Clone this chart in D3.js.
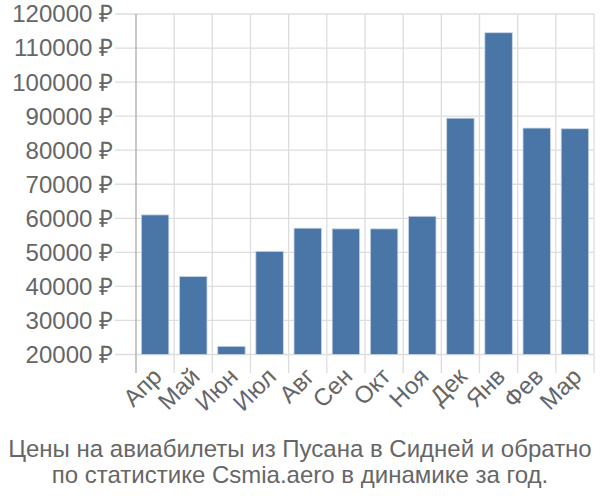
<!DOCTYPE html>
<html><head><meta charset="utf-8">
<script src="https://cdn.jsdelivr.net/npm/d3@7"></script>
<style>body{margin:0;background:#fff}svg{display:block}text{font-family:"Liberation Sans",Arial,sans-serif}</style>
</head><body>
<svg id="c" width="600" height="500"></svg>
<script>
const categories = ["Апр","Май","Июн","Июл","Авг","Сен","Окт","Ноя","Дек","Янв","Фев","Мар"];
const values = [61000,42900,22400,50300,57100,56900,56900,60600,89400,114500,86500,86300];
const yTicks = [20000,30000,40000,50000,60000,70000,80000,90000,100000,110000,120000];
const titleLines = ["Цены на авиабилеты из Пусана в Сидней и обратно","по статистике Csmia.aero в динамике за год."];

const svg = d3.select("#c");
const pLeft = 136, pRight = 594, pTop = 14, pBottom = 354.5;
const x = d3.scaleBand().domain(categories).range([pLeft, pRight]).paddingInner(0.28).paddingOuter(0.14);
const y = d3.scaleLinear().domain([20000,120000]).range([pBottom, pTop]);
const step = x.step();

// horizontal grid
svg.append("g").selectAll("line").data(yTicks).join("line")
  .attr("x1", 115).attr("x2", pRight).attr("y1", d=>y(d)).attr("y2", d=>y(d))
  .attr("stroke","#dddddd").attr("stroke-width",1.3);
// vertical grid
const vb = d3.range(categories.length+1).map(i=>pLeft+i*step);
svg.append("g").selectAll("line").data(vb.slice(1)).join("line")
  .attr("x1", d=>d).attr("x2", d=>d).attr("y1", pTop).attr("y2", 373)
  .attr("stroke","#dddddd").attr("stroke-width",1.3);
// left axis line
svg.append("line").attr("x1",pLeft).attr("x2",pLeft).attr("y1",pTop).attr("y2",373)
  .attr("stroke","#aaaaaa").attr("stroke-width",1.3);

// bars
svg.append("g").selectAll("rect").data(values).join("rect")
  .attr("x",(d,i)=>x(categories[i])).attr("width",x.bandwidth())
  .attr("y",d=>y(d)).attr("height",d=>y(20000)-y(d))
  .attr("fill","#4a76a7").attr("stroke","#c9d6e6").attr("stroke-width",0.8);

// y labels
svg.append("g").selectAll("text").data(yTicks).join("text")
  .attr("x",113).attr("y",d=>y(d)).attr("dy","0.35em").attr("text-anchor","end")
  .attr("font-size",24).attr("fill","#666").text(d=>d+" ₽");

// x labels
svg.append("g").selectAll("text").data(categories).join("text")
  .attr("transform",d=>`translate(${x(d)+x.bandwidth()/2+8},${378}) rotate(-45)`)
  .attr("text-anchor","end").attr("font-size",24).attr("fill","#666").text(d=>d);

// title
svg.append("g").selectAll("text").data(titleLines).join("text")
  .attr("x",300).attr("y",(d,i)=>456.5+i*26).attr("text-anchor","middle")
  .attr("font-size",24).attr("fill","#666").text(d=>d);
</script>
</body></html>
